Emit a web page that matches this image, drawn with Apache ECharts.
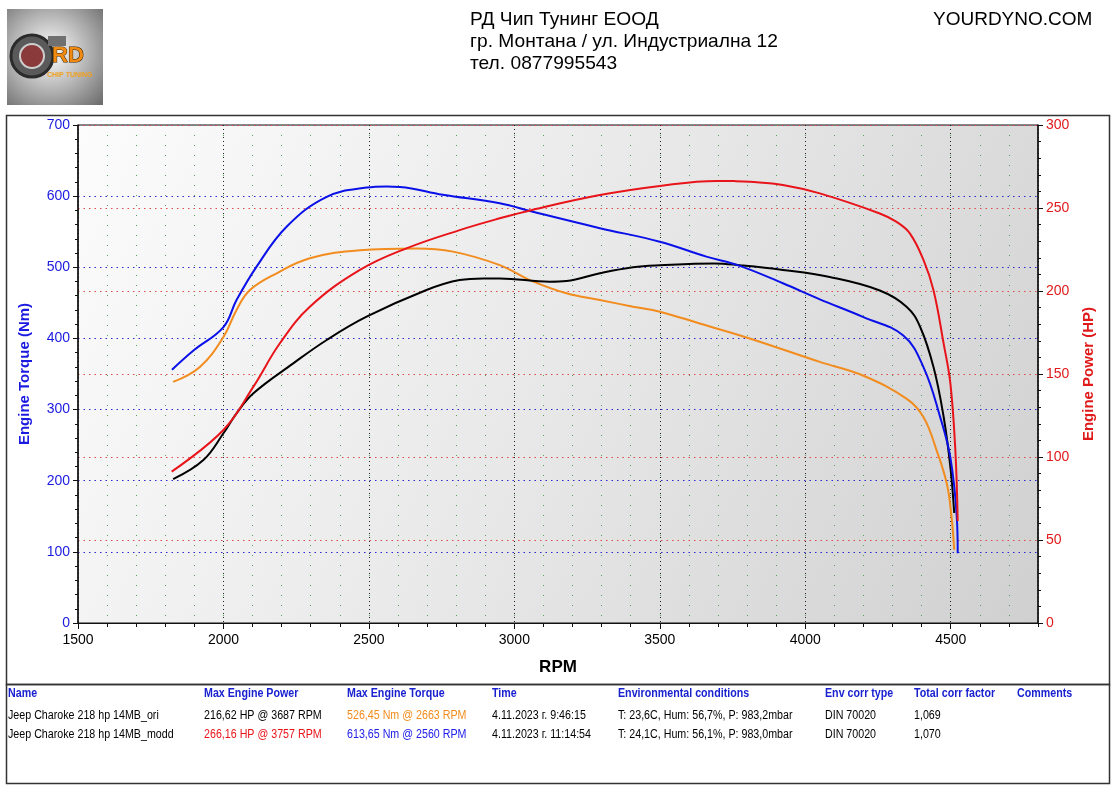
<!DOCTYPE html>
<html>
<head>
<meta charset="utf-8">
<script src="https://cdn.jsdelivr.net/npm/echarts@6/dist/echarts.min.js"></script>
<style>
html,body{margin:0;padding:0;background:#fff;}
#chart{width:1116px;height:790px;}
</style>
</head>
<body>
<div id="chart"></div>
<script>
// ---- data ----
var rpmModdTorque = [1823,1900,2000,2045,2114,2217,2355,2492,2560,2607,2754,2950,3064,3294,3500,3660,3775,3923,4050,4200,4337,4407,4464,4499,4521,4524];
var moddTorque    = [356,384,416,454,501,557,599,612,613.6,613,602,590,578,555,536,515,502,477.5,455,430,404,359,289,232,148,98];

var rpmOriTorque  = [1827,1919,2000,2045,2091,2183,2297,2469,2663,2789,2950,3053,3179,3294,3408,3500,3637,3809,4050,4200,4349,4407,4452,4487,4503,4512];
var oriTorque     = [339,360,402,440,468,491.6,512.6,524,526.5,522,503,482,463.5,454,444.6,437.6,421,400,367,347.6,315,289,242,195,148,103];

var rpmOriPower   = [1827,1931,2000,2045,2103,2240,2355,2492,2698,2812,2893,2950,3122,3179,3294,3408,3500,3687,3775,3923,4084,4256,4349,4395,4441,4476,4499,4512];
var oriPower      = [86.7,98.2,114.3,126.3,138.4,156.4,170.5,184.5,200.6,206.6,207.6,207.6,205.6,206,210.7,214.3,215.5,216.6,215.5,212.7,208.4,200.3,190.4,178.3,154,123.8,93.6,66.3];

var rpmModdPower  = [1822,2000,2103,2194,2297,2469,2629,2812,2950,3064,3294,3500,3695,3757,3809,3923,4050,4256,4314,4360,4407,4441,4476,4499,4516,4524];
var moddPower     = [91.2,116.3,142.4,168.5,190.5,212.7,225.7,236.7,243.8,249,257.8,263.3,266.3,266.2,265.8,263.9,258.8,246.7,241.6,234.6,218.4,200.3,168,144,103.6,61.4];

var headerLines = ['РД Чип Тунинг ЕООД', 'гр. Монтана / ул. Индустриална 12', 'тел. 0877995543'];
var siteName = 'YOURDYNO.COM';

var tableHeaders = ['Name','Max Engine Power','Max Engine Torque','Time','Environmental conditions','Env corr type','Total corr factor','Comments'];
var rowOri  = ['Jeep Charoke 218 hp 14MB_ori','216,62 HP @ 3687 RPM','526,45 Nm @ 2663 RPM','4.11.2023 г. 9:46:15','T: 23,6C, Hum: 56,7%, P: 983,2mbar','DIN 70020','1,069',''];
var rowModd = ['Jeep Charoke 218 hp 14MB_modd','266,16 HP @ 3757 RPM','613,65 Nm @ 2560 RPM','4.11.2023 г. 11:14:54','T: 24,1C, Hum: 56,1%, P: 983,0mbar','DIN 70020','1,070',''];

function zip(a, b){ return a.map(function(v,i){ return [v, b[i]]; }); }

// ---- layout / style ----
var C_BLUE = '#0a10e8', C_RED = '#e8141a', C_ORANGE = '#f28c1e', C_BLACK = '#000000';
var colX = [8,204,347,492,618,825,914,1017];
var FONT = '"Liberation Sans", Arial, sans-serif';

var graphics = [];
// plot background gradient (grid area)
graphics.push({type:'rect', shape:{x:78,y:125,width:960,height:498}, style:{fill:{type:'linear',x:0,y:0,x2:1,y2:1,colorStops:[{offset:0,color:'#fcfcfc'},{offset:0.5,color:'#e8e8e8'},{offset:1,color:'#d0d0d0'}]}}, z:-10, silent:true});

// logo
graphics.push({type:'rect', shape:{x:7,y:9,width:96,height:96}, style:{fill:{type:'radial',x:0.45,y:0.45,r:0.75,colorStops:[{offset:0,color:'#ffffff'},{offset:0.5,color:'#b8b8b8'},{offset:1,color:'#6e6e6e'}]}}, z:1});
graphics.push({type:'circle', shape:{cx:32,cy:56,r:21}, style:{fill:'#5a5a5a',stroke:'#2b2b2b',lineWidth:3}, z:2});
graphics.push({type:'circle', shape:{cx:32,cy:56,r:12}, style:{fill:'#8a3a3a',stroke:'#cfcfcf',lineWidth:2}, z:3});
graphics.push({type:'rect', shape:{x:48,y:36,width:18,height:10}, style:{fill:'#707070'}, z:2});
graphics.push({type:'text', x:52, y:45, style:{text:'RD', fill:'#f08a10', font:'bold 22px '+FONT, stroke:'#3a2000', lineWidth:1}, z:4});
graphics.push({type:'text', x:47, y:72, style:{text:'CHIP TUNING', fill:'#f0a020', font:'bold 7px '+FONT}, z:4});

// header text
headerLines.forEach(function(t,i){
  graphics.push({type:'text', x:470, y:10+i*22, style:{text:t, fill:'#000', font:'19px '+FONT}, scaleX:1.01, z:5});
});
graphics.push({type:'text', x:933, y:10, style:{text:siteName, fill:'#000', font:'19px '+FONT}, z:5});

// boxes
graphics.push({type:'rect', shape:{x:6.5,y:115.5,width:1103,height:569}, style:{fill:null, stroke:'#333', lineWidth:1.5}, z:0, silent:true});
graphics.push({type:'rect', shape:{x:6.5,y:684.5,width:1103,height:99}, style:{fill:null, stroke:'#333', lineWidth:1.5}, z:0, silent:true});

// table (condensed text)
var SX = 0.89;
tableHeaders.forEach(function(t,i){
  graphics.push({type:'text', x:colX[i], y:688, scaleX:SX, style:{text:t, fill:'#1a22d0', font:'bold 12px '+FONT}, z:5});
});
var rowColorsOri  = ['#000','#000',C_ORANGE,'#000','#000','#000','#000','#000'];
var rowColorsModd = ['#000',C_RED,'#2020e8','#000','#000','#000','#000','#000'];
rowOri.forEach(function(t,i){
  if(!t) return;
  graphics.push({type:'text', x:colX[i], y:710, scaleX:SX, style:{text:t, fill:rowColorsOri[i], font:'12px '+FONT}, z:5});
});
rowModd.forEach(function(t,i){
  if(!t) return;
  graphics.push({type:'text', x:colX[i], y:729, scaleX:SX, style:{text:t, fill:rowColorsModd[i], font:'12px '+FONT}, z:5});
});

function plain(v){ return String(v); }

var chart = echarts.init(document.getElementById('chart'), null, {renderer:'canvas'});
var option = {
  animation:false,
  backgroundColor:'#ffffff',
  grid:{
    left:78, right:78, top:125, bottom:167, show:true,
    borderColor:'#111', borderWidth:1, backgroundColor:'transparent'
  },
  xAxis:[
    { // minor 100-rpm grid
      type:'value', min:1500, max:4800, interval:100, position:'bottom',
      axisLine:{show:true,lineStyle:{color:'#111'}},
      axisTick:{show:true,length:4,lineStyle:{color:'#111'}},
      axisLabel:{show:false},
      splitLine:{show:true,lineStyle:{color:'#5f9a5f',type:[1,9],width:1}}
    },
    { // major 500-rpm grid with labels
      type:'value', min:1500, max:4800, interval:500, position:'bottom',
      axisLine:{show:true,lineStyle:{color:'#111'}},
      axisTick:{show:true,length:6,lineStyle:{color:'#111'}},
      axisLabel:{color:'#000', fontSize:14, fontFamily:FONT, margin:10, showMaxLabel:false, formatter:plain},
      splitLine:{show:true,lineStyle:{color:'#222',type:[1,3],width:1}},
      name:'RPM', nameLocation:'middle', nameGap:36,
      nameTextStyle:{color:'#000', fontSize:17, fontWeight:'bold', fontFamily:FONT}
    }
  ],
  yAxis:[
    {
      type:'value', min:0, max:700, interval:100, position:'left',
      axisLine:{show:true,lineStyle:{color:'#111',width:1.5}},
      axisTick:{show:true,length:5,lineStyle:{color:'#111'}},
      minorTick:{show:true,splitNumber:5,length:3,lineStyle:{color:'#111'}},
      axisLabel:{color:'#1a1ae0', fontSize:14, fontFamily:FONT, margin:8, formatter:plain},
      splitLine:{show:true,lineStyle:{color:'#2a2ad0',type:[1.5,4],width:1}},
      name:'Engine Torque (Nm)', nameLocation:'middle', nameRotate:90, nameGap:46,
      nameTextStyle:{color:'#1a1ae0', fontSize:15, fontWeight:'bold', fontFamily:FONT}
    },
    {
      type:'value', min:0, max:300, interval:50, position:'right',
      axisLine:{show:true,lineStyle:{color:'#111',width:1.5}},
      axisTick:{show:true,length:5,lineStyle:{color:'#111'}},
      minorTick:{show:true,splitNumber:5,length:3,lineStyle:{color:'#111'}},
      axisLabel:{color:'#e01a1a', fontSize:14, fontFamily:FONT, margin:8, formatter:plain},
      splitLine:{show:true,lineStyle:{color:'#e04a4a',type:[1.5,4],width:1}},
      name:'Engine Power (HP)', nameLocation:'middle', nameRotate:90, nameGap:43,
      nameTextStyle:{color:'#e01a1a', fontSize:15, fontWeight:'bold', fontFamily:FONT}
    }
  ],
  series:[
    {name:'Torque ori', type:'line', xAxisIndex:0, yAxisIndex:0, data:zip(rpmOriTorque, oriTorque), smooth:0.4, showSymbol:false, lineStyle:{color:C_ORANGE,width:2}, z:3},
    {name:'Power ori', type:'line', xAxisIndex:0, yAxisIndex:1, data:zip(rpmOriPower, oriPower), smooth:0.4, showSymbol:false, lineStyle:{color:C_BLACK,width:2}, z:3},
    {name:'Torque modd', type:'line', xAxisIndex:0, yAxisIndex:0, data:zip(rpmModdTorque, moddTorque), smooth:0.4, showSymbol:false, lineStyle:{color:C_BLUE,width:2}, z:4},
    {name:'Power modd', type:'line', xAxisIndex:0, yAxisIndex:1, data:zip(rpmModdPower, moddPower), smooth:0.4, showSymbol:false, lineStyle:{color:C_RED,width:2}, z:4}
  ],
  graphic:graphics
};
chart.setOption(option);
</script>
</body>
</html>
